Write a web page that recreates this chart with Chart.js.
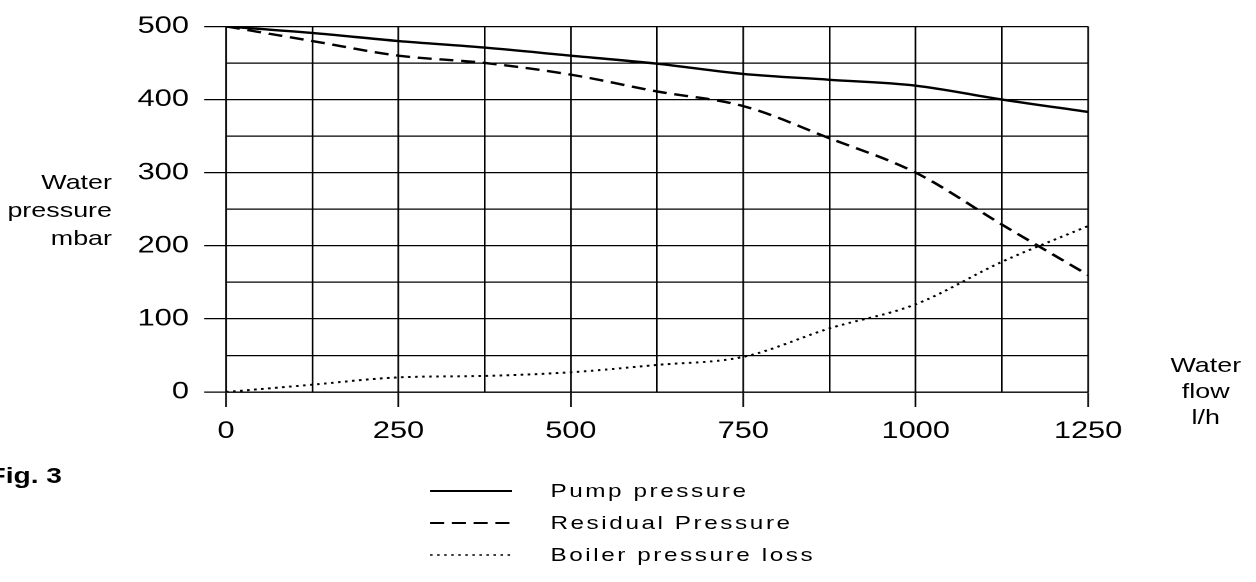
<!DOCTYPE html>
<html>
<head>
<meta charset="utf-8">
<script src="https://cdn.jsdelivr.net/npm/chart.js@4.4.1/dist/chart.umd.min.js"></script>
<style>
  html, body { margin: 0; padding: 0; background: #fff; }
  body { width: 1256px; height: 582px; overflow: hidden; position: relative; }
  /* the scanned figure is stretched sideways, so the whole stage is too */
  #stage {
    position: absolute; left: 0; top: 0;
    width: 981.25px; height: 582px;
    transform: scaleX(1.28); transform-origin: 0 0;
    font-family: "Liberation Sans", Arial, sans-serif; color: #000;
  }
  #chartBox { position: absolute; left: 0; top: 0; width: 981.25px; height: 460px; }
  .txt { position: absolute; white-space: nowrap; }
  #yTitle { left: 0; width: 87.5px; top: 168px; text-align: right; font-size: 21px; line-height: 28px; }
  #xTitle { left: 892px; width: 100px; top: 352px; text-align: center; font-size: 21px; line-height: 26px; }
  #fig { left: -9px; top: 465px; font-size: 22px; font-weight: bold; line-height: 22px; }
  #legend { position: absolute; left: 336px; top: 475px; }
  .row { display: flex; align-items: center; height: 32px; }
  .row span { margin-left: 30px; font-size: 19px; letter-spacing: 2px; }
</style>
</head>
<body>
<div id="stage">
  <div id="chartBox"><canvas id="flowChart"></canvas></div>
  <div id="yTitle" class="txt">Water<br>pressure<br>mbar</div>
  <div id="xTitle" class="txt">Water<br>flow<br>l/h</div>
  <div id="fig" class="txt">Fig. 3</div>
  <div id="legend"></div>
</div>
<script>
// water flow l/h
const flow = [0, 125, 250, 375, 500, 625, 750, 875, 1000, 1125, 1250];
// mbar
const pumpPressure = [500, 491, 480, 471, 460, 449, 435, 427, 419, 400, 383];
const residualPressure = [500, 480, 460, 450, 434, 411, 391, 347, 300, 229, 160];
const boilerLoss = [0, 10, 20, 22, 27, 37, 48, 87, 120, 178, 227];

const seriesNames = ['Pump pressure', 'Residual Pressure', 'Boiler pressure loss'];
const seriesValues = [pumpPressure, residualPressure, boilerLoss];
const seriesDash = [[], [11, 6], [2, 3.5]];
const seriesWidth = [2.4, 2.4, 2];

const xTickLabels = [0, 250, 500, 750, 1000, 1250];
const yTickLabels = [0, 100, 200, 300, 400, 500];

const tickFont = { family: '"Liberation Sans", Arial, sans-serif', size: 24 };

function makeDatasets() {
    return seriesNames.map((name, i) => ({
        label: name,
        data: flow.map((x, j) => ({ x: x, y: seriesValues[i][j] })),
        borderColor: '#000',
        borderWidth: seriesWidth[i],
        borderDash: seriesDash[i],
        pointRadius: 0,
        fill: false,
        cubicInterpolationMode: 'monotone'
    }));
}

function buildLegend() {
    const legend = document.getElementById('legend');
    seriesNames.forEach((name, i) => {
        const row = document.createElement('div');
        row.className = 'row';
        const dash = seriesDash[i].length ? `stroke-dasharray="${seriesDash[i].join(' ')}"` : '';
        row.innerHTML = `<svg width="64" height="6"><line x1="0" y1="3" x2="64" y2="3" stroke="#000" stroke-width="${seriesWidth[i] - 0.6}" ${dash}/></svg><span>${name}</span>`;
        legend.appendChild(row);
    });
}

function drawChart() {
    const ctx = document.getElementById('flowChart').getContext('2d');
    new Chart(ctx, {
        type: 'line',
        data: { datasets: makeDatasets() },
        options: {
            responsive: true,
            maintainAspectRatio: false,
            animation: false,
            devicePixelRatio: 2,
            layout: { padding: { top: 20, right: 131.25, left: 0, bottom: 0 } },
            plugins: { legend: { display: false }, tooltip: { enabled: false } },
            scales: {
                x: {
                    type: 'linear',
                    min: 0,
                    max: 1250,
                    afterFit: s => { s.height = 68; },
                    ticks: {
                        stepSize: 125,
                        autoSkip: false,
                        maxRotation: 0,
                        padding: 10,
                        color: '#000',
                        font: tickFont,
                        callback: v => xTickLabels.includes(v) ? String(v) : ''
                    },
                    grid: {
                        color: '#000',
                        lineWidth: 1.3,
                        tickLength: 15,
                        tickColor: c => xTickLabels.includes(c.tick.value) ? '#000' : 'rgba(0,0,0,0)'
                    },
                    border: { color: '#000', width: 1.3 }
                },
                y: {
                    min: 0,
                    max: 500,
                    afterFit: s => { s.width = 176.6; },
                    ticks: {
                        stepSize: 50,
                        padding: 12,
                        color: '#000',
                        font: tickFont,
                        callback: v => yTickLabels.includes(v) ? String(v) : ''
                    },
                    grid: {
                        color: '#000',
                        lineWidth: 1.3,
                        tickLength: 17,
                        tickColor: c => yTickLabels.includes(c.tick.value) ? '#000' : 'rgba(0,0,0,0)'
                    },
                    border: { color: '#000', width: 1.3 }
                }
            }
        }
    });
}

buildLegend();
drawChart();
</script>
</body>
</html>
